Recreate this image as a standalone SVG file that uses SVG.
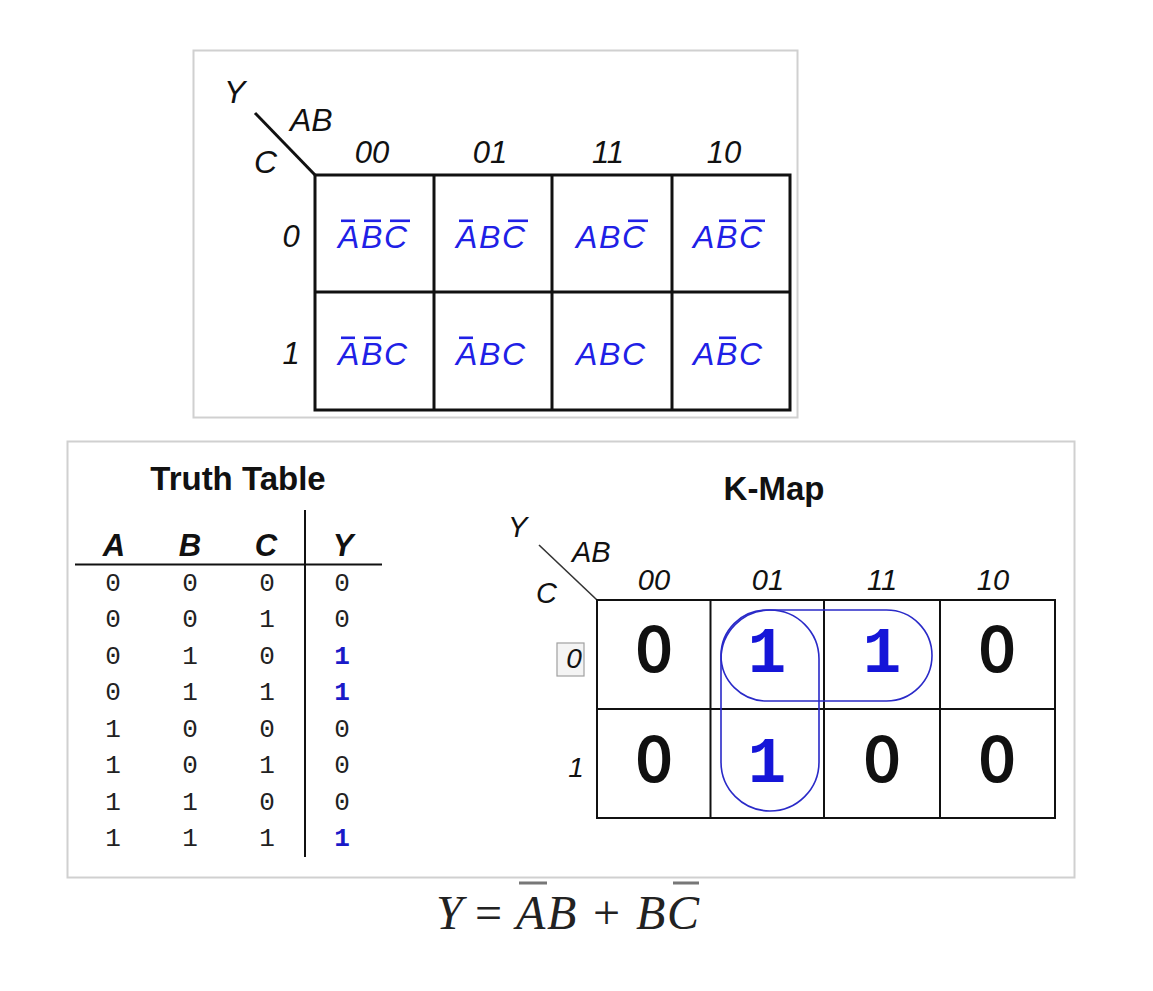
<svg xmlns="http://www.w3.org/2000/svg" width="1153" height="991" viewBox="0 0 1153 991">
<style>
.panel{fill:#fff;stroke:#d0d0d0;stroke-width:2}
.lbl{font-family:"Liberation Sans",Arial,sans-serif;font-style:italic;fill:#111}
.cell{font-family:"Liberation Sans",Arial,sans-serif;font-style:italic;font-size:32px;fill:#2020e6}
.bar{fill:#2020e6}
.grid{fill:none;stroke:#111}
.title{font-family:"Liberation Sans",Arial,sans-serif;font-weight:bold;font-size:33px;fill:#111;text-anchor:middle}
.hdr{font-family:"Liberation Sans",Arial,sans-serif;font-weight:bold;font-style:italic;font-size:31px;fill:#111;text-anchor:middle}
.tt{font-family:"Liberation Mono","Courier New",monospace;font-size:26px;fill:#222;text-anchor:middle}
.tt1{font-family:"Liberation Mono","Courier New",monospace;font-size:26px;font-weight:bold;fill:#1a1ac8;text-anchor:middle}
.big0{font-family:"DejaVu Sans",sans-serif;font-size:60px;fill:#111;stroke:#111;stroke-width:2;text-anchor:middle}
.big1{font-family:"Liberation Mono","Courier New",monospace;font-weight:bold;font-size:64px;fill:#1515d8;text-anchor:middle}
.oval{fill:none;stroke:#2a2ac8;stroke-width:1.6}
.eq{font-family:"Liberation Serif","Times New Roman",serif;font-size:48px;fill:#222}
.eqi{font-style:italic}
</style>

<g id="top-kmap">
  <rect class="panel" x="193.5" y="50.5" width="604" height="367"/>
  <line x1="255" y1="113" x2="316" y2="176" stroke="#111" stroke-width="3"/>
  <text class="lbl" x="224" y="103" font-size="32">Y</text>
  <text class="lbl" x="290" y="131" font-size="32">AB</text>
  <text class="lbl" x="254" y="173" font-size="32">C</text>
  <g class="lbl" font-size="31" text-anchor="middle">
    <text x="372" y="163">00</text>
    <text x="490" y="163">01</text>
    <text x="608" y="163">11</text>
    <text x="724" y="163">10</text>
    <text x="291" y="247">0</text>
    <text x="291" y="364">1</text>
  </g>
  <g class="grid" stroke-width="3">
    <rect x="315" y="175" width="475" height="235"/>
    <line x1="315" y1="292" x2="790" y2="292"/>
    <line x1="434" y1="175" x2="434" y2="410"/>
    <line x1="552" y1="175" x2="552" y2="410"/>
    <line x1="672" y1="175" x2="672" y2="410"/>
  </g>
  <!-- row 0 -->
  <text class="cell" x="338 361 384" y="248">ABC</text>
  <rect class="bar" x="341" y="219.5" width="14" height="2.6"/>
  <rect class="bar" x="364" y="219.5" width="17" height="2.6"/>
  <rect class="bar" x="390" y="219.5" width="20" height="2.6"/>
  <text class="cell" x="456 479 502" y="248">ABC</text>
  <rect class="bar" x="459" y="219.5" width="14" height="2.6"/>
  <rect class="bar" x="508" y="219.5" width="20" height="2.6"/>
  <text class="cell" x="576 599 622" y="248">ABC</text>
  <rect class="bar" x="628" y="219.5" width="20" height="2.6"/>
  <text class="cell" x="693 716 739" y="248">ABC</text>
  <rect class="bar" x="719" y="219.5" width="17" height="2.6"/>
  <rect class="bar" x="745" y="219.5" width="20" height="2.6"/>
  <!-- row 1 -->
  <text class="cell" x="338 361 384" y="365">ABC</text>
  <rect class="bar" x="341" y="336.5" width="14" height="2.6"/>
  <rect class="bar" x="364" y="336.5" width="17" height="2.6"/>
  <text class="cell" x="456 479 502" y="365">ABC</text>
  <rect class="bar" x="459" y="336.5" width="14" height="2.6"/>
  <text class="cell" x="576 599 622" y="365">ABC</text>
  <text class="cell" x="693 716 739" y="365">ABC</text>
  <rect class="bar" x="719" y="336.5" width="17" height="2.6"/>
</g>

<rect class="panel" x="67.5" y="441.5" width="1007" height="436"/>

<g id="truth-table">
  <text class="title" x="238" y="490">Truth Table</text>
  <text class="hdr" x="114" y="556">A</text>
  <text class="hdr" x="190" y="556">B</text>
  <text class="hdr" x="266" y="556">C</text>
  <text class="hdr" x="343" y="556">Y</text>
  <line x1="75" y1="564.5" x2="382" y2="564.5" stroke="#111" stroke-width="2"/>
  <line x1="305" y1="510" x2="305" y2="857" stroke="#111" stroke-width="2"/>
  <g class="tt">
    <text x="113" y="591">0</text><text x="190" y="591">0</text><text x="267" y="591">0</text><text x="342" y="591">0</text>
    <text x="113" y="627">0</text><text x="190" y="627">0</text><text x="267" y="627">1</text><text x="342" y="627">0</text>
    <text x="113" y="664">0</text><text x="190" y="664">1</text><text x="267" y="664">0</text>
    <text x="113" y="700">0</text><text x="190" y="700">1</text><text x="267" y="700">1</text>
    <text x="113" y="737">1</text><text x="190" y="737">0</text><text x="267" y="737">0</text><text x="342" y="737">0</text>
    <text x="113" y="773">1</text><text x="190" y="773">0</text><text x="267" y="773">1</text><text x="342" y="773">0</text>
    <text x="113" y="810">1</text><text x="190" y="810">1</text><text x="267" y="810">0</text><text x="342" y="810">0</text>
    <text x="113" y="846">1</text><text x="190" y="846">1</text><text x="267" y="846">1</text>
  </g>
  <g class="tt1">
    <text x="342" y="664">1</text>
    <text x="342" y="700">1</text>
    <text x="342" y="846">1</text>
  </g>
</g>

<g id="bottom-kmap">
  <text class="title" x="774" y="500">K-Map</text>
  <line x1="539" y1="545" x2="597" y2="600" stroke="#333" stroke-width="1.6"/>
  <text class="lbl" x="508" y="537" font-size="29">Y</text>
  <text class="lbl" x="572" y="562" font-size="29">AB</text>
  <text class="lbl" x="536" y="603" font-size="29">C</text>
  <g class="lbl" font-size="29" text-anchor="middle" fill="#222">
    <text x="654" y="590">00</text>
    <text x="768" y="590">01</text>
    <text x="882" y="590">11</text>
    <text x="993" y="590">10</text>
  </g>
  <rect x="557" y="643" width="27" height="33" fill="#f4f4f4" stroke="#a0a0a0" stroke-width="1.2"/>
  <text class="lbl" x="574" y="668" font-size="28" text-anchor="middle">0</text>
  <text class="lbl" x="576" y="777" font-size="28" text-anchor="middle">1</text>
  <g class="grid" stroke-width="2">
    <rect x="597" y="600" width="458" height="218"/>
    <line x1="597" y1="709" x2="1055" y2="709"/>
    <line x1="710.5" y1="600" x2="710.5" y2="818"/>
    <line x1="824" y1="600" x2="824" y2="818"/>
    <line x1="940" y1="600" x2="940" y2="818"/>
  </g>
  <text class="big0" x="654" y="671">0</text>
  <text class="big1" x="767" y="672">1</text>
  <text class="big1" x="882" y="672">1</text>
  <text class="big0" x="997" y="671">0</text>
  <text class="big0" x="654" y="781">0</text>
  <text class="big1" x="767" y="782">1</text>
  <text class="big0" x="882" y="781">0</text>
  <text class="big0" x="997" y="781">0</text>
  <rect class="oval" x="721" y="610" width="211" height="91" rx="45.5" ry="45.5"/>
  <rect class="oval" x="721" y="610" width="98" height="201" rx="49" ry="49"/>
</g>

<g id="equation">
  <text class="eq eqi" x="436" y="929">Y</text>
  <text class="eq" x="475" y="929">=</text>
  <text class="eq eqi" x="516" y="929">A</text>
  <text class="eq eqi" x="547" y="929">B</text>
  <text class="eq" x="593" y="929">+</text>
  <text class="eq eqi" x="636" y="929">B</text>
  <text class="eq eqi" x="667" y="929">C</text>
  <rect x="519" y="881.5" width="28" height="3" fill="#777"/>
  <rect x="673" y="881.5" width="26" height="3" fill="#777"/>
</g>

<g id="connectors"/>
</svg>
